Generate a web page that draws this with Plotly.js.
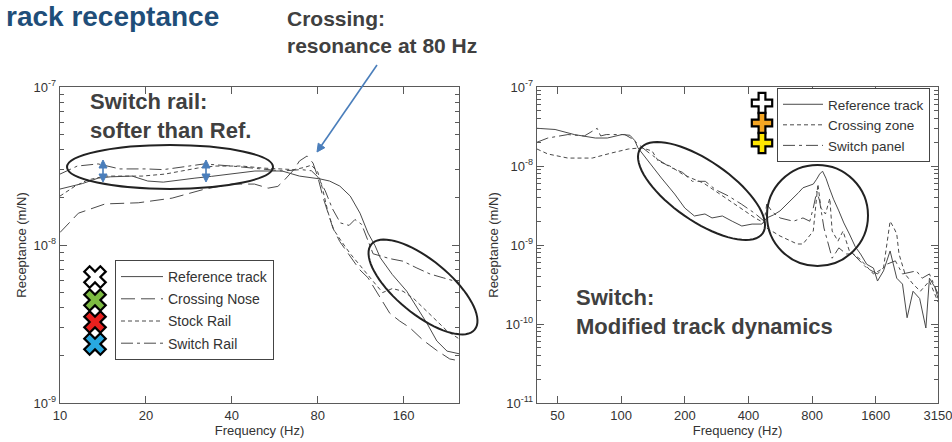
<!DOCTYPE html>
<html>
<head>
<meta charset="utf-8">
<script src="https://cdn.plot.ly/plotly-3.0.1.min.js"></script>
<style>html,body{margin:0;padding:0;background:#fff;}#chart{width:952px;height:442px;}</style>
</head>
<body>
<div id="chart"></div>
<script>
// ---------------- DATA: left panel (crossing components) ----------------
const refL_f   = [10, 11, 12, 13.6, 15, 17.9, 20.3, 23, 26, 29.7, 34, 38.8, 43, 48.2, 54, 60, 69, 75, 81.5, 88, 95.6, 104, 112.5, 120, 127, 132.5, 146, 164, 178, 193, 209, 227, 250];
const refL_v   = [2.26e-8, 2.35e-8, 2.45e-8, 2.65e-8, 2.7e-8, 2.73e-8, 2.54e-8, 2.5e-8, 2.58e-8, 2.65e-8, 2.72e-8, 2.81e-8, 2.88e-8, 2.94e-8, 2.94e-8, 2.94e-8, 2.73e-8, 2.68e-8, 2.62e-8, 2.54e-8, 2.36e-8, 2.04e-8, 1.59e-8, 1.19e-8, 9.9e-9, 8.3e-9, 6.5e-9, 5.1e-9, 4.0e-9, 3.2e-9, 2.47e-9, 2.13e-9, 2.05e-9];

const noseL_f  = [10, 11.6, 14.4, 18.8, 24.7, 32.2, 40, 48, 53.6, 58, 61.4, 66, 69, 73.4, 77, 80, 83.5, 87, 90.4, 95.6, 104, 112, 120, 133, 143, 155, 168, 187, 209, 232, 250];
const noseL_v  = [1.2e-8, 1.59e-8, 1.82e-8, 1.85e-8, 1.98e-8, 2.26e-8, 2.43e-8, 2.43e-8, 2.29e-8, 2.35e-8, 2.6e-8, 3.0e-8, 3.4e-8, 3.66e-8, 3.3e-8, 2.7e-8, 2.0e-8, 1.6e-8, 1.28e-8, 1.05e-8, 8.5e-9, 7.0e-9, 6.2e-9, 4.6e-9, 3.7e-9, 3.3e-9, 3.0e-9, 2.5e-9, 2.15e-9, 1.9e-9, 1.85e-9];

const stockL_f = [10, 11.3, 12.5, 14.4, 19.4, 23.3, 26.7, 30.4, 34.9, 43.4, 51, 60, 66, 72, 76, 80, 83, 87, 91, 97, 104, 112, 120, 128, 135, 146, 159, 173, 193, 209, 227, 250];
const stockL_v = [2.04e-8, 2.36e-8, 2.58e-8, 2.73e-8, 2.73e-8, 2.81e-8, 2.94e-8, 3.07e-8, 3.16e-8, 3.16e-8, 3.07e-8, 3.03e-8, 3.0e-8, 3.1e-8, 3.2e-8, 2.9e-8, 2.3e-8, 1.6e-8, 1.25e-8, 1.05e-8, 8.8e-9, 7.5e-9, 6.5e-9, 5.6e-9, 5.0e-9, 5.3e-9, 5.1e-9, 4.6e-9, 3.8e-9, 3.3e-9, 2.86e-9, 2.55e-9];

const swL_f    = [10, 11.5, 13.6, 16.2, 20, 23, 25.3, 32, 40, 48, 60, 70, 76, 80, 85, 90, 96, 103, 108, 114, 120, 125, 143, 159, 178, 198, 220, 250];
const swL_v    = [2.81e-8, 3.16e-8, 3.26e-8, 3.03e-8, 3.03e-8, 3.0e-8, 3.07e-8, 3.26e-8, 3.16e-8, 3.07e-8, 2.94e-8, 3.0e-8, 2.95e-8, 2.7e-8, 2.2e-8, 1.7e-8, 1.38e-8, 1.33e-8, 1.45e-8, 1.35e-8, 1.05e-8, 8.8e-9, 8.2e-9, 7.9e-9, 7.15e-9, 6.55e-9, 6.2e-9, 5.8e-9];

// ---------------- DATA: right panel (switch) ----------------
const refR_f   = [40, 48.7, 60, 75.5, 86, 95, 101, 110, 116, 120, 134, 155, 179, 200, 222, 249, 269, 301, 335, 372, 416, 463, 488, 525, 564, 610, 652, 690, 724, 770, 810, 840, 868, 896, 930, 964, 1010, 1070, 1130, 1200, 1280, 1355, 1450, 1560, 1630, 1740, 1870, 2010, 2140, 2250, 2400, 2580, 2760, 2870, 3050, 3150];
const refR_v   = [3.0e-8, 2.9e-8, 2.5e-8, 2.26e-8, 2.26e-8, 2.4e-8, 2.5e-8, 2.45e-8, 2.1e-8, 1.7e-8, 1.16e-8, 7.05e-9, 4.42e-9, 2.94e-9, 2.33e-9, 2.47e-9, 2.2e-9, 2.33e-9, 2.0e-9, 1.74e-9, 1.84e-9, 1.84e-9, 2.2e-9, 2.4e-9, 2.7e-9, 3.3e-9, 3.9e-9, 4.6e-9, 5.3e-9, 5.6e-9, 5.9e-9, 6.8e-9, 7.9e-9, 8.6e-9, 7.0e-9, 5.3e-9, 3.8e-9, 2.7e-9, 1.9e-9, 1.38e-9, 9.5e-10, 7.7e-10, 5.7e-10, 5.1e-10, 3.5e-10, 4.7e-10, 8.4e-10, 3.8e-10, 3.2e-10, 1.2e-10, 2.6e-10, 2.1e-10, 8.9e-11, 3.8e-10, 2.9e-10, 2.1e-10];

const czR_f    = [40, 45, 56, 73, 90, 108, 125, 140, 150, 170, 195, 215, 245, 280, 320, 370, 430, 475, 488, 564, 680, 724, 780, 810, 852, 880, 925, 970, 995, 1060, 1120, 1200, 1350, 1560, 1740, 1870, 1950, 2010, 2060, 2200, 2400, 2600, 2870, 3150];
const czR_v    = [1.64e-8, 1.42e-8, 1.26e-8, 1.26e-8, 1.46e-8, 1.64e-8, 1.7e-8, 1.55e-8, 1.15e-8, 1.0e-8, 7.9e-9, 7.0e-9, 6.1e-9, 4.8e-9, 3.8e-9, 2.94e-9, 2.2e-9, 1.9e-9, 1.64e-9, 1.3e-9, 1.03e-9, 1.03e-9, 1.3e-9, 1.5e-9, 5.9e-9, 2.94e-9, 2.47e-9, 3.9e-9, 1.5e-9, 1.12e-9, 1.5e-9, 8.4e-10, 6.6e-10, 4.3e-10, 5.1e-10, 2.0e-9, 1.64e-9, 1.38e-9, 7.7e-10, 4.3e-10, 3.2e-10, 2.6e-10, 3.5e-10, 1.9e-10];

const spR_f    = [40, 45, 56, 67, 77, 80, 85, 97, 104, 113, 120, 134, 150, 170, 195, 217, 250, 280, 320, 370, 430, 475, 488, 520, 564, 652, 724, 780, 810, 842, 868, 910, 964, 995, 1070, 1160, 1250, 1450, 1630, 1800, 1980, 2140, 2490, 2650, 2870, 3150];
const spR_v    = [2.0e-8, 2.26e-8, 2.5e-8, 2.4e-8, 3.0e-8, 2.4e-8, 2.5e-8, 2.5e-8, 2.5e-8, 2.2e-8, 1.9e-8, 1.5e-8, 1.2e-8, 9.7e-9, 8.3e-9, 6.4e-9, 6.4e-9, 5.0e-9, 4.2e-9, 3.3e-9, 2.5e-9, 2.0e-9, 3.3e-9, 2.6e-9, 2.2e-9, 2.0e-9, 2.2e-9, 2.0e-9, 2.94e-9, 4.8e-9, 3.6e-9, 1.64e-9, 9.2e-10, 6.8e-10, 9.2e-10, 7.7e-10, 7.7e-10, 5.1e-10, 4.3e-10, 5.7e-10, 6.3e-10, 4.3e-10, 4.7e-10, 3.8e-10, 4.3e-10, 2.4e-10];

// ---------------- Tick labels ----------------
const xTicksL = [10, 20, 40, 80, 160];
const xTicksR = [50, 100, 200, 400, 800, 1600, 3150];
const yTicksL = [1e-9, 1e-8, 1e-7];
const yTextL  = ['10<sup>-9</sup>', '10<sup>-8</sup>', '10<sup>-7</sup>'];
const yTicksR = [1e-11, 1e-10, 1e-9, 1e-8, 1e-7];
const yTextR  = ['10<sup>-11</sup>', '10<sup>-10</sup>', '10<sup>-9</sup>', '10<sup>-8</sup>', '10<sup>-7</sup>'];

// ---------------- Layout helpers ----------------
const W = 952, H = 442, M = {l: 60, r: 14, t: 87, b: 39};
const PW = W - M.l - M.r, PH = H - M.t - M.b;
const px = p => (p - M.l) / PW;          // pixel x -> paper x
const py = p => (H - M.b - p) / PH;      // pixel y -> paper y
const FONT = 'Liberation Sans, Arial, sans-serif';
const LINEC = '#4a4a4a';
const AXC = '#5a5a5a';
const BLUE = '#4a7ebb';

function minorVals(e0, e1) {
  const out = [];
  for (let e = e0; e < e1; e++) for (let k = 2; k <= 9; k++) out.push(k * Math.pow(10, e));
  return out;
}
function ellipsePath(cx, cy, a, b, deg) {
  const t = deg * Math.PI / 180, pts = [];
  for (let i = 0; i <= 72; i++) {
    const u = i / 72 * 2 * Math.PI;
    const x = cx + a * Math.cos(u) * Math.cos(t) - b * Math.sin(u) * Math.sin(t);
    const y = cy + a * Math.cos(u) * Math.sin(t) + b * Math.sin(u) * Math.cos(t);
    pts.push((i ? 'L' : 'M') + px(x).toFixed(5) + ',' + py(y).toFixed(5));
  }
  return pts.join(' ') + ' Z';
}
// arrow drawn as shapes: a line plus filled triangular head(s); coordinates in figure pixels
function arrowShapes(x1, y1, x2, y2, both) {
  const out = [];
  const dx = x2 - x1, dy = y2 - y1, L = Math.hypot(dx, dy), ux = dx / L, uy = dy / L;
  const hl = 8, hw = 4;
  const head = (hx, hy, sx, sy) => {
    const bx = hx - sx * hl, by = hy - sy * hl;
    const p1 = [bx - sy * hw, by + sx * hw], p2 = [bx + sy * hw, by - sx * hw];
    return {type: 'path', xref: 'paper', yref: 'paper', fillcolor: BLUE, line: {color: BLUE, width: 1},
      path: 'M' + px(hx) + ',' + py(hy) + ' L' + px(p1[0]) + ',' + py(p1[1]) + ' L' + px(p2[0]) + ',' + py(p2[1]) + ' Z'};
  };
  const sx1 = both ? x1 + ux * hl * 0.8 : x1, sy1 = both ? y1 + uy * hl * 0.8 : y1;
  out.push({type: 'line', xref: 'paper', yref: 'paper', x0: px(sx1), y0: py(sy1), x1: px(x2 - ux * hl * 0.8), y1: py(y2 - uy * hl * 0.8), line: {color: BLUE, width: 1.6}});
  out.push(head(x2, y2, ux, uy));
  if (both) out.push(head(x1, y1, -ux, -uy));
  return out;
}

const line = (dash) => ({color: LINEC, width: 1, dash: dash});
const DASH_SHORT = '4px,3px';
const DASH_LONG = '14px,6px';
const DASH_DOT = '12px,4px,3px,4px';

const traces = [
  {x: refL_f, y: refL_v, name: 'Reference track', mode: 'lines', line: line('solid'), xaxis: 'x', yaxis: 'y', legend: 'legend', legendgroup: 'a'},
  {x: noseL_f, y: noseL_v, name: 'Crossing Nose', mode: 'lines', line: line(DASH_LONG), xaxis: 'x', yaxis: 'y', legend: 'legend', legendgroup: 'b'},
  {x: stockL_f, y: stockL_v, name: 'Stock Rail', mode: 'lines', line: line(DASH_SHORT), xaxis: 'x', yaxis: 'y', legend: 'legend', legendgroup: 'c'},
  {x: swL_f, y: swL_v, name: 'Switch Rail', mode: 'lines', line: line(DASH_DOT), xaxis: 'x', yaxis: 'y', legend: 'legend', legendgroup: 'd'},
  {x: refR_f, y: refR_v, name: 'Reference track', mode: 'lines', line: line('solid'), xaxis: 'x2', yaxis: 'y2', legend: 'legend2', legendgroup: 'e'},
  {x: czR_f, y: czR_v, name: 'Crossing zone', mode: 'lines', line: line(DASH_SHORT), xaxis: 'x2', yaxis: 'y2', legend: 'legend2', legendgroup: 'f'},
  {x: spR_f, y: spR_v, name: 'Switch panel', mode: 'lines', line: line(DASH_DOT), xaxis: 'x2', yaxis: 'y2', legend: 'legend2', legendgroup: 'g'},
  // decorative icons beside the legends (overlay axes spanning the plot area)
  {x: [px(95), px(95), px(95), px(95)], y: [py(277), py(300), py(322), py(344)], mode: 'markers', xaxis: 'x3', yaxis: 'y3', showlegend: false, cliponaxis: false, hoverinfo: 'skip',
   marker: {symbol: 'x', size: 19, color: ['#ffffff', '#7dbb42', '#e8201e', '#29a9e0'], line: {color: '#000', width: 2.2}}},
  {x: [px(762), px(762), px(762)], y: [py(103), py(123), py(143)], mode: 'markers', xaxis: 'x3', yaxis: 'y3', showlegend: false, cliponaxis: false, hoverinfo: 'skip',
   marker: {symbol: 'cross', size: 17, color: ['#ffffff', '#f5a623', '#ffe600'], line: {color: '#000', width: 2.2}}}
];

const baseX = {
  type: 'log', showgrid: false, zeroline: false, showline: true, linecolor: AXC, linewidth: 1.3, mirror: 'ticks',
  ticks: 'inside', ticklen: 7, tickwidth: 1, tickcolor: AXC, tickmode: 'array', ticklabeloverflow: 'allow',
  tickfont: {family: FONT, size: 13, color: '#333'},
  title: {text: 'Frequency (Hz)', font: {family: FONT, size: 13, color: '#333'}, standoff: 2}
};
const baseY = {
  type: 'log', showgrid: false, zeroline: false, showline: true, linecolor: AXC, linewidth: 1.3, mirror: 'ticks',
  ticks: 'inside', ticklen: 7, tickwidth: 1, tickcolor: AXC, tickmode: 'array', ticklabeloverflow: 'allow',
  tickfont: {family: FONT, size: 13, color: '#333'},
  title: {text: 'Receptance (m/N)', font: {family: FONT, size: 13, color: '#333'}, standoff: 4}
};

const layout = {
  width: W, height: H, margin: M, paper_bgcolor: '#fff', plot_bgcolor: 'rgba(0,0,0,0)',
  font: {family: FONT, color: '#333'}, hovermode: false,
  xaxis: Object.assign({}, baseX, {domain: [0, px(459)], range: [1, Math.log10(250)], tickvals: xTicksL, ticktext: xTicksL.map(String), anchor: 'y'}),
  yaxis: Object.assign({}, baseY, {domain: [0, 1], range: [-9, -7], tickvals: yTicksL, ticktext: yTextL, anchor: 'x',
    minor: {tickmode: 'array', tickvals: minorVals(-9, -7), ticks: 'inside', ticklen: 4, tickcolor: AXC}}),
  xaxis2: Object.assign({}, baseX, {domain: [px(537), 1], range: [Math.log10(40), Math.log10(3150)], tickvals: xTicksR, ticktext: xTicksR.map(String), anchor: 'y2'}),
  yaxis2: Object.assign({}, baseY, {domain: [0, 1], range: [-11, -7], tickvals: yTicksR, ticktext: yTextR, anchor: 'x2',
    minor: {tickmode: 'array', tickvals: minorVals(-11, -7), ticks: 'inside', ticklen: 4, tickcolor: AXC}}),
  xaxis3: {domain: [0, 1], range: [0, 1], visible: false, anchor: 'y3', fixedrange: true},
  yaxis3: {domain: [0, 1], range: [0, 1], visible: false, anchor: 'x3', fixedrange: true},
  legend: {x: px(115), y: py(260), xanchor: 'left', yanchor: 'top', bgcolor: '#fff', bordercolor: '#444', borderwidth: 1,
    font: {family: FONT, size: 14, color: '#333'}, traceorder: 'grouped', tracegroupgap: 1, itemwidth: 42},
  legend2: {x: px(777), y: py(88), xanchor: 'left', yanchor: 'top', bgcolor: '#fff', bordercolor: '#444', borderwidth: 1,
    font: {family: FONT, size: 13.5, color: '#333'}, traceorder: 'grouped', tracegroupgap: 0, itemwidth: 40},
  shapes: [
    {type: 'circle', xref: 'paper', yref: 'paper', x0: px(67), x1: px(273), y0: py(189), y1: py(145), line: {color: '#222', width: 2}},
    {type: 'path', xref: 'paper', yref: 'paper', path: ellipsePath(423, 287, 67, 27, 39.5), line: {color: '#222', width: 2}},
    {type: 'path', xref: 'paper', yref: 'paper', path: ellipsePath(701.5, 191, 74.4, 30, 34.7), line: {color: '#222', width: 2}},
    {type: 'circle', xref: 'paper', yref: 'paper', x0: px(767), x1: px(868), y0: py(266), y1: py(165), line: {color: '#222', width: 2}}
  ].concat(arrowShapes(377, 65, 317, 152, false), arrowShapes(103, 182, 103, 160, true), arrowShapes(206, 182, 206, 160, true)),
  annotations: [
    {text: '<b>rack receptance</b>', xref: 'paper', yref: 'paper', x: px(4), y: py(17), xanchor: 'left', yanchor: 'middle', showarrow: false,
     font: {family: FONT, size: 28, color: '#1f4e79'}},
    {text: '<b>Crossing:<br>resonance at 80 Hz</b>', xref: 'paper', yref: 'paper', x: px(285), y: py(32), xanchor: 'left', yanchor: 'middle', align: 'left', showarrow: false,
     font: {family: FONT, size: 21, color: '#404040'}},
    {text: '<b>Switch rail:<br>softer than Ref.</b>', xref: 'paper', yref: 'paper', x: px(88), y: py(116), xanchor: 'left', yanchor: 'middle', align: 'left', showarrow: false,
     font: {family: FONT, size: 22, color: '#404040'}},
    {text: '<b>Switch:<br>Modified track dynamics</b>', xref: 'paper', yref: 'paper', x: px(574), y: py(312), xanchor: 'left', yanchor: 'middle', align: 'left', showarrow: false,
     font: {family: FONT, size: 22, color: '#404040'}}
  ]
};

Plotly.newPlot('chart', traces, layout, {staticPlot: true, displayModeBar: false});
</script>
</body>
</html>
